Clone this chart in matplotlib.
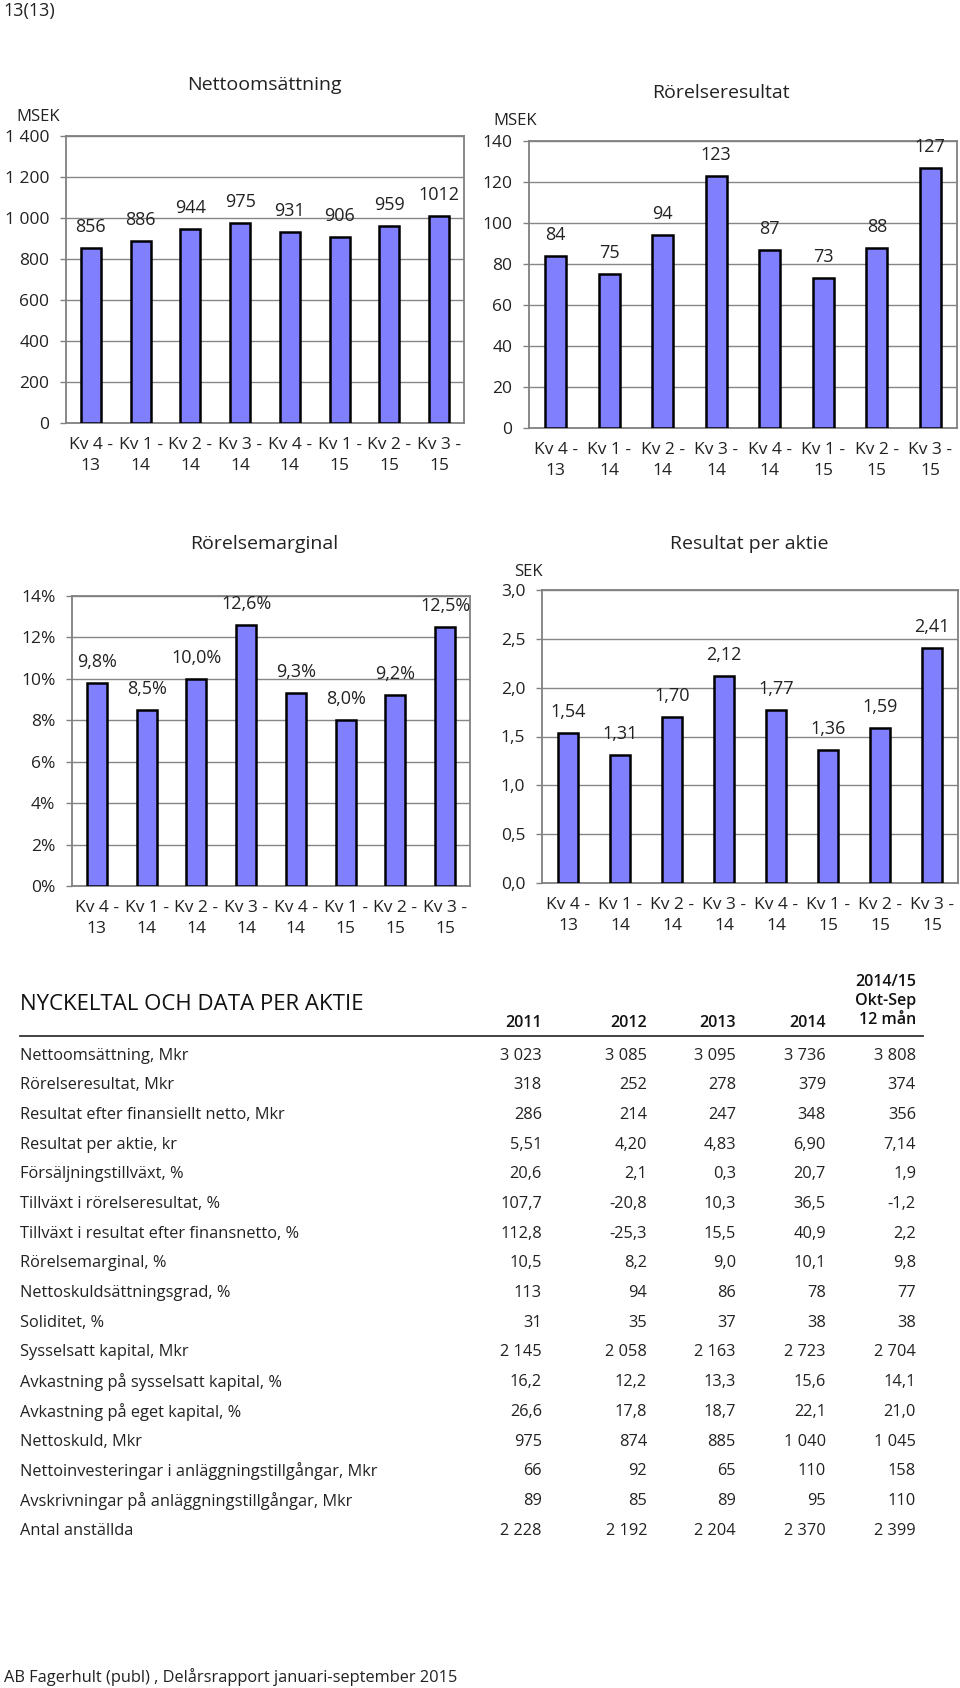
import matplotlib
matplotlib.use("Agg")
import matplotlib.pyplot as plt
from matplotlib.lines import Line2D

plt.rcParams['font.family'] = ['Open Sans', 'DejaVu Sans']

W, H = 960, 1688

quarters = ["Kv 4 -\n13", "Kv 1 -\n14", "Kv 2 -\n14", "Kv 3 -\n14",
            "Kv 4 -\n14", "Kv 1 -\n15", "Kv 2 -\n15", "Kv 3 -\n15"]

net_sales = [856, 886, 944, 975, 931, 906, 959, 1012]
op_result = [84, 75, 94, 123, 87, 73, 88, 127]
op_margin = [9.8, 8.5, 10.0, 12.6, 9.3, 8.0, 9.2, 12.5]
eps = [1.54, 1.31, 1.70, 2.12, 1.77, 1.36, 1.59, 2.41]

sales_ticks = [0, 200, 400, 600, 800, 1000, 1200, 1400]
sales_ticklabels = ["0", "200", "400", "600", "800", "1 000", "1 200", "1 400"]
result_ticks = [0, 20, 40, 60, 80, 100, 120, 140]
margin_ticks = [0, 2, 4, 6, 8, 10, 12, 14]
eps_ticks = [0, 0.5, 1.0, 1.5, 2.0, 2.5, 3.0]

row_labels = [
    "Nettoomsättning, Mkr",
    "Rörelseresultat, Mkr",
    "Resultat efter finansiellt netto, Mkr",
    "Resultat per aktie, kr",
    "Försäljningstillväxt, %",
    "Tillväxt i rörelseresultat, %",
    "Tillväxt i resultat efter finansnetto, %",
    "Rörelsemarginal, %",
    "Nettoskuldsättningsgrad, %",
    "Soliditet, %",
    "Sysselsatt kapital, Mkr",
    "Avkastning på sysselsatt kapital, %",
    "Avkastning på eget kapital, %",
    "Nettoskuld, Mkr",
    "Nettoinvesteringar i anläggningstillgångar, Mkr",
    "Avskrivningar på anläggningstillgångar, Mkr",
    "Antal anställda",
]
col_headers = ["2011", "2012", "2013", "2014", "2014/15\nOkt-Sep\n12 mån"]
v2011 = ["3 023", "318", "286", "5,51", "20,6", "107,7", "112,8", "10,5", "113", "31",
         "2 145", "16,2", "26,6", "975", "66", "89", "2 228"]
v2012 = ["3 085", "252", "214", "4,20", "2,1", "-20,8", "-25,3", "8,2", "94", "35",
         "2 058", "12,2", "17,8", "874", "92", "85", "2 192"]
v2013 = ["3 095", "278", "247", "4,83", "0,3", "10,3", "15,5", "9,0", "86", "37",
         "2 163", "13,3", "18,7", "885", "65", "89", "2 204"]
v2014 = ["3 736", "379", "348", "6,90", "20,7", "36,5", "40,9", "10,1", "78", "38",
         "2 723", "15,6", "22,1", "1 040", "110", "95", "2 370"]
v12m = ["3 808", "374", "356", "7,14", "1,9", "-1,2", "2,2", "9,8", "77", "38",
        "2 704", "14,1", "21,0", "1 045", "158", "110", "2 399"]

fig = plt.figure(figsize=(W / 100, H / 100), dpi=100)


def px_axes(left, top, right, bottom):
    return fig.add_axes([left / W, 1 - bottom / H, (right - left) / W, (bottom - top) / H])


def ftext(x, y, s, **kw):
    kw.setdefault("va", "center")
    fig.text(x / W, 1 - y / H, s, **kw)


def bar_chart(box, values, ticks, ticklabels, labels, title, title_xy, unit=None, unit_xy=None):
    ax = px_axes(*box)
    x = range(len(values))
    ax.set_axisbelow(True)
    ax.yaxis.grid(True, color="#868686", lw=1.0)
    ax.bar(x, values, width=0.4, color="#8080FF", edgecolor="black", linewidth=1.8, zorder=3)
    ax.set_xlim(-0.5, len(values) - 0.5)
    ax.set_ylim(ticks[0], ticks[-1])
    ax.set_yticks(ticks)
    ax.set_yticklabels(ticklabels, fontsize=12.5, color="#222222")
    ax.set_xticks(list(x))
    ax.set_xticklabels(quarters, fontsize=12.5, color="#222222", linespacing=1.4)
    ax.tick_params(axis="y", length=4, width=1, color="#808080", pad=8)
    ax.tick_params(axis="x", length=0, pad=10)
    for s in ax.spines.values():
        s.set_color("#808080")
        s.set_linewidth(1.3)
    for xi, v, lab in zip(x, values, labels):
        ax.annotate(lab, (xi, v), xytext=(0, 21), textcoords="offset pixels",
                    ha="center", va="center", fontsize=13, color="#222222")
    ftext(title_xy[0], title_xy[1], title, ha="center", fontsize=14, color="#222222")
    if unit:
        ftext(unit_xy[0], unit_xy[1], unit, ha="left", fontsize=12, color="#222222")
    return ax


bar_chart((66, 136, 464, 423), net_sales, sales_ticks, sales_ticklabels,
          [str(v) for v in net_sales], "Nettoomsättning", (264, 85), "MSEK", (16, 117))
bar_chart((529, 141, 957, 428), op_result, result_ticks, [str(t) for t in result_ticks],
          [str(v) for v in op_result], "Rörelseresultat", (721, 93), "MSEK", (493, 121))
bar_chart((72, 596, 470, 886), op_margin, margin_ticks, ["%d%%" % t for t in margin_ticks],
          [("%.1f%%" % v).replace(".", ",") for v in op_margin], "Rörelsemarginal", (264, 544))
bar_chart((542, 590, 958, 883), eps, eps_ticks, [("%.1f" % t).replace(".", ",") for t in eps_ticks],
          [("%.2f" % v).replace(".", ",") for v in eps], "Resultat per aktie", (749, 544),
          "SEK", (514, 572))

# page number and footer
ftext(3, 11, "13(13)", ha="left", fontsize=13, color="#222222")
ftext(4, 1677, "AB Fagerhult (publ) , Delårsrapport januari-september 2015",
      ha="left", fontsize=11.8, color="#222222")

# table
ftext(20, 1004, "NYCKELTAL OCH DATA PER AKTIE", ha="left", fontsize=16, color="#111111")
col_right = [542, 647, 736, 826, 916]
for xr, hdr in zip(col_right, col_headers):
    if "\n" in hdr:
        ftext(xr, 1001, hdr, ha="right", fontsize=11.5, fontweight="semibold",
              linespacing=1.25, multialignment="right", color="#111111")
    else:
        ftext(xr, 1023, hdr, ha="right", fontsize=11.5, fontweight="semibold", color="#111111")
fig.add_artist(Line2D([20 / W, 923 / W], [1 - 1036 / H] * 2, color="#333333", lw=1.3))

columns = [v2011, v2012, v2013, v2014, v12m]
for i, lab in enumerate(row_labels):
    y = 1055.5 + i * 29.7
    ftext(20, y, lab, ha="left", fontsize=11.8, color="#222222")
    for xr, col in zip(col_right, columns):
        ftext(xr, y, col[i], ha="right", fontsize=11.8, color="#222222")

fig.savefig("out.png", dpi=100)
